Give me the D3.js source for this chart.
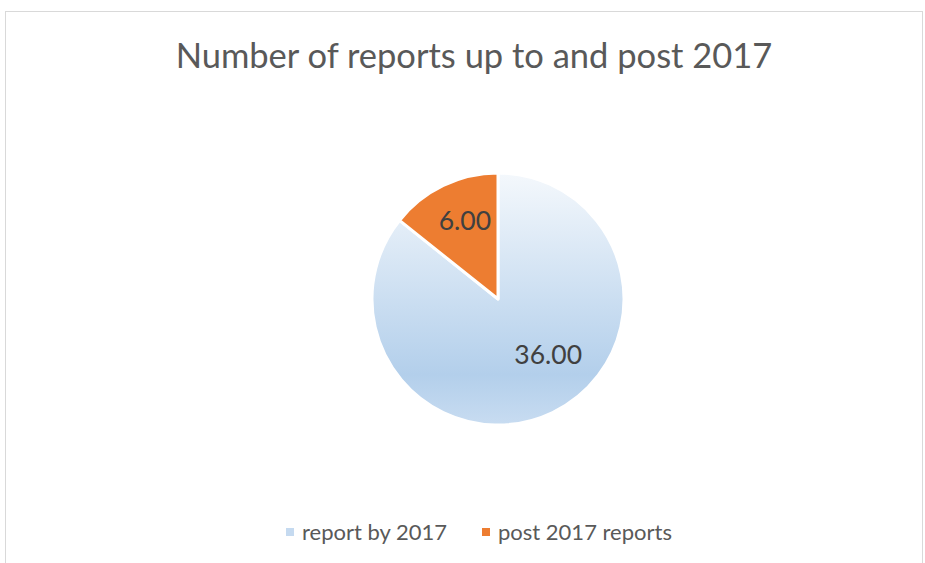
<!DOCTYPE html>
<html>
<head>
<meta charset="utf-8">
<script src="https://cdn.jsdelivr.net/npm/d3@7/dist/d3.min.js"></script>
<style>
  body { margin: 0; background: #fff; }
  text { font-family: Lato, "Open Sans", sans-serif; }
</style>
</head>
<body>
<svg id="chart"></svg>
<script>
const categories = ['report by 2017', 'post 2017 reports'],
values = [36, 6],
title = 'Number of reports up to and post 2017',
width = 925,
height = 563,
radius = 126,
center = {x: 498, y: 299};

const svg = d3.select('#chart')
  .attr('width', width)
  .attr('height', height);

// outer chart frame
svg.append('rect')
  .attr('x', 5.5)
  .attr('y', 11.5)
  .attr('width', 917)
  .attr('height', 600)
  .attr('fill', '#fff')
  .attr('stroke', '#d9d9d9');

const defs = svg.append('defs');
const grad = defs.append('linearGradient')
  .attr('id', 'blue-grad')
  .attr('gradientUnits', 'userSpaceOnUse')
  .attr('x1', 0).attr('y1', -radius)
  .attr('x2', 0).attr('y2', radius);
grad.selectAll('stop')
  .data([[0, '#f4f8fc'], [0.8, '#b3cfeb'], [1, '#c8dcf1']])
  .enter().append('stop')
  .attr('offset', d => d[0])
  .attr('stop-color', d => d[1]);

const fills = ['url(#blue-grad)', '#ed7d31'];
const legendColors = ['#c5daf0', '#ed7d31'];

svg.append('text')
  .attr('x', 474)
  .attr('y', 68)
  .attr('text-anchor', 'middle')
  .attr('font-size', 34.5)
  .attr('fill', '#595959')
  .text(title);

const pie = d3.pie().sort(null).value(d => d);
const arc = d3.arc().innerRadius(0).outerRadius(radius);
const labelArc = d3.arc().innerRadius(radius * 0.68).outerRadius(radius * 0.68);
// excel "best fit" shifts the big label up and right a bit
const labelNudge = [[13, -21], [4, -1]];

const g = svg.append('g')
  .attr('transform', `translate(${center.x},${center.y})`);

const slices = pie(values);

g.selectAll('path')
  .data(slices)
  .enter().append('path')
  .attr('d', arc)
  .attr('fill', (d, i) => fills[i])
  .attr('stroke', '#fff')
  .attr('stroke-width', 3)
  .attr('stroke-linejoin', 'round');

g.selectAll('.lbl')
  .data(slices)
  .enter().append('text')
  .attr('class', 'lbl')
  .attr('transform', (d, i) => {
    const c = labelArc.centroid(d);
    return `translate(${c[0] + labelNudge[i][0]},${c[1] + labelNudge[i][1]})`;
  })
  .attr('text-anchor', 'middle')
  .attr('dy', '0.35em')
  .attr('font-size', 26.5)
  .attr('fill', '#404040')
  .text(d => d.value.toFixed(2));

// legend
const legend = svg.append('g')
  .attr('transform', 'translate(0,532)');
const legendX = [286, 482];
const item = legend.selectAll('g')
  .data(categories)
  .enter().append('g')
  .attr('transform', (d, i) => `translate(${legendX[i]},0)`);
item.append('rect')
  .attr('x', 0)
  .attr('y', -4)
  .attr('width', 8)
  .attr('height', 8)
  .attr('fill', (d, i) => legendColors[i]);
item.append('text')
  .attr('x', 16)
  .attr('dy', '0.35em')
  .attr('font-size', 22)
  .attr('fill', '#595959')
  .text(d => d);
</script>
</body>
</html>
